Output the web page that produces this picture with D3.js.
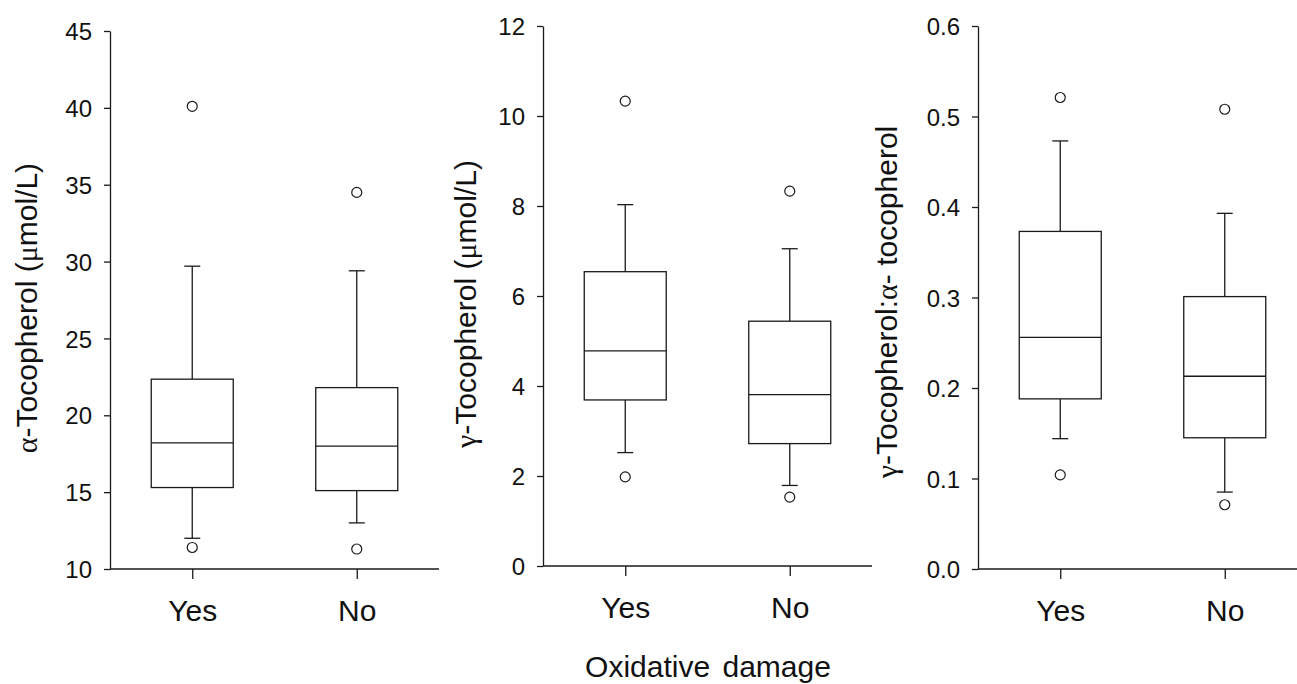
<!DOCTYPE html>
<html>
<head>
<meta charset="utf-8">
<script src="https://cdnjs.cloudflare.com/ajax/libs/d3/7.8.5/d3.min.js"></script>
<style>
    body { margin: 0; background: white; }
    svg { display: block; }
    .tick text { font-family: "Liberation Sans", Arial, sans-serif; fill: #111; }
</style>
</head>
<body>
<div id="chart"></div>
<script>
// Size of svg (matches the window)
var svgWidth = 1297;
var svgHeight = 684;

// Groups on the x axis
var groups = ["Yes", "No"];

// alpha-tocopherol (umol/L): whisker low, Q1, median, Q3, whisker high, outliers
var alphaLow = [12.0, 13.0];
var alphaQ1 = [15.3, 15.1];
var alphaMedian = [18.2, 18.0];
var alphaQ3 = [22.35, 21.8];
var alphaHigh = [29.7, 29.4];
var alphaOutliers = [[40.1, 11.4], [34.5, 11.3]];
var alphaTicks = [10, 15, 20, 25, 30, 35, 40, 45];

// gamma-tocopherol (umol/L)
var gammaLow = [2.52, 1.79];
var gammaQ1 = [3.69, 2.72];
var gammaMedian = [4.78, 3.81];
var gammaQ3 = [6.54, 5.44];
var gammaHigh = [8.03, 7.05];
var gammaOutliers = [[10.33, 1.98], [8.33, 1.53]];
var gammaTicks = [0, 2, 4, 6, 8, 10, 12];

// gamma:alpha ratio
var ratioLow = [0.144, 0.085];
var ratioQ1 = [0.188, 0.145];
var ratioMedian = [0.256, 0.213];
var ratioQ3 = [0.373, 0.301];
var ratioHigh = [0.473, 0.393];
var ratioOutliers = [[0.521, 0.104], [0.508, 0.071]];
var ratioTicks = [0, 0.1, 0.2, 0.3, 0.4, 0.5, 0.6];

var font = "'Liberation Sans', Arial, sans-serif";
var greekFont = "'Liberation Serif', 'Times New Roman', serif";
var ink = "#1a1a1a";

// Build panel list (layout is kept here, not in the data arrays)
var panels = [
    { left: 110, right: 439, top: 31, bottom: 569,
      low: alphaLow, q1: alphaQ1, median: alphaMedian, q3: alphaQ3, high: alphaHigh, outliers: alphaOutliers,
      ticks: alphaTicks, format: d3.format("d"),
      label: [["α", true], ["-Tocopherol (", false], ["μ", true], ["mol/L)", false]], labelX: 37, labelY: 308 },
    { left: 543, right: 872, top: 26, bottom: 566,
      low: gammaLow, q1: gammaQ1, median: gammaMedian, q3: gammaQ3, high: gammaHigh, outliers: gammaOutliers,
      ticks: gammaTicks, format: d3.format("d"),
      label: [["γ", true], ["-Tocopherol (", false], ["μ", true], ["mol/L)", false]], labelX: 476, labelY: 304 },
    { left: 978, right: 1297, top: 26, bottom: 569,
      low: ratioLow, q1: ratioQ1, median: ratioMedian, q3: ratioQ3, high: ratioHigh, outliers: ratioOutliers,
      ticks: ratioTicks, format: d3.format(".1f"),
      label: [["γ", true], ["-Tocopherol:", false], ["α", true], ["- tocopherol", false]], labelX: 897, labelY: 302 }
];

// Add svg to webpage
var svg = d3.select("#chart")
    .append("svg")
    .attr("width", svgWidth)
    .attr("height", svgHeight);

panels.forEach(function(p) {

    var g = svg.append("g")
        .attr("transform", `translate(${p.left}, 0)`);

    // Scales
    var xScale = d3.scalePoint()
        .domain(groups)
        .range([0, 329])
        .padding(0.5);

    var yScale = d3.scaleLinear()
        .domain([p.ticks[0], p.ticks[p.ticks.length - 1]])
        .range([p.bottom, p.top]);

    var boxWidth = 82;
    var capHalf = 8;

    // Y axis
    var leftAxis = d3.axisLeft(yScale)
        .tickValues(p.ticks)
        .tickFormat(p.format)
        .tickSize(6)
        .tickSizeOuter(0)
        .tickPadding(12);

    var yAxisG = g.append("g")
        .call(leftAxis);
    yAxisG.selectAll("path, line").attr("stroke", ink).attr("stroke-width", 1.3);
    yAxisG.selectAll("text").attr("font-size", "24px").attr("font-family", font).attr("dy", "0.36em");

    // X axis (domain line drawn separately so it runs to the panel edge)
    var bottomAxis = d3.axisBottom(xScale)
        .tickSize(10)
        .tickSizeOuter(0)
        .tickPadding(21);

    var xAxisG = g.append("g")
        .attr("transform", `translate(0, ${p.bottom})`)
        .call(bottomAxis);
    xAxisG.select(".domain").remove();
    xAxisG.selectAll("line").attr("stroke", ink).attr("stroke-width", 1.3);
    xAxisG.selectAll("text").attr("font-size", "30px").attr("font-family", font).attr("fill", "#111");

    g.append("line")
        .attr("x1", 0)
        .attr("x2", p.right - p.left)
        .attr("y1", p.bottom)
        .attr("y2", p.bottom)
        .attr("stroke", ink)
        .attr("stroke-width", 1.5);

    // Boxes
    groups.forEach(function(grp, i) {
        var cx = xScale(grp);

        // upper whisker + cap
        g.append("line")
            .attr("x1", cx).attr("x2", cx)
            .attr("y1", yScale(p.q3[i])).attr("y2", yScale(p.high[i]))
            .attr("stroke", ink).attr("stroke-width", 1.3);
        g.append("line")
            .attr("x1", cx - capHalf).attr("x2", cx + capHalf)
            .attr("y1", yScale(p.high[i])).attr("y2", yScale(p.high[i]))
            .attr("stroke", ink).attr("stroke-width", 1.3);

        // lower whisker + cap
        g.append("line")
            .attr("x1", cx).attr("x2", cx)
            .attr("y1", yScale(p.q1[i])).attr("y2", yScale(p.low[i]))
            .attr("stroke", ink).attr("stroke-width", 1.3);
        g.append("line")
            .attr("x1", cx - capHalf).attr("x2", cx + capHalf)
            .attr("y1", yScale(p.low[i])).attr("y2", yScale(p.low[i]))
            .attr("stroke", ink).attr("stroke-width", 1.3);

        // box
        g.append("rect")
            .attr("x", cx - boxWidth / 2)
            .attr("y", yScale(p.q3[i]))
            .attr("width", boxWidth)
            .attr("height", yScale(p.q1[i]) - yScale(p.q3[i]))
            .attr("fill", "white")
            .attr("stroke", ink)
            .attr("stroke-width", 1.3);

        // median
        g.append("line")
            .attr("x1", cx - boxWidth / 2).attr("x2", cx + boxWidth / 2)
            .attr("y1", yScale(p.median[i])).attr("y2", yScale(p.median[i]))
            .attr("stroke", ink).attr("stroke-width", 1.3);

        // outliers
        g.selectAll(null)
            .data(p.outliers[i])
            .enter()
            .append("circle")
            .attr("cx", cx)
            .attr("cy", d => yScale(d))
            .attr("r", 5)
            .attr("fill", "none")
            .attr("stroke", ink)
            .attr("stroke-width", 1.2);
    });

    // Y axis label
    var label = svg.append("text")
        .attr("transform", `translate(${p.labelX}, ${p.labelY}) rotate(-90)`)
        .attr("text-anchor", "middle")
        .attr("font-size", "30px")
        .attr("font-family", font)
        .attr("fill", "#111");

    p.label.forEach(function(part) {
        label.append("tspan")
            .attr("font-family", part[1] ? greekFont : font)
            .text(part[0]);
    });
});

// Shared x label
svg.append("text")
    .attr("x", 708)
    .attr("y", 677)
    .attr("text-anchor", "middle")
    .attr("font-size", "30px")
    .attr("font-family", font)
    .attr("fill", "#111")
    .attr("word-spacing", "4px")
    .text("Oxidative damage");
</script>
</body>
</html>
